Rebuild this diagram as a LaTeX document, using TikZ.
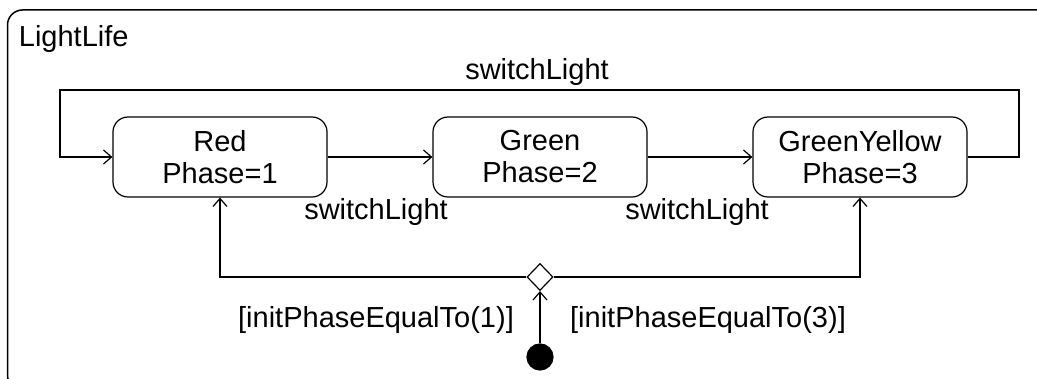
\documentclass[tikz,border=0pt]{standalone}
\usepackage{fontspec}
\setmainfont{Liberation Sans}
\usetikzlibrary{shapes.geometric,arrows.meta}

\begin{document}
\begin{tikzpicture}[x=1pt, y=-1pt, line width=1.2pt,
		every node/.style={font=\fontsize{29}{32}\selectfont},
		phase/.style={draw, rectangle, rounded corners=15pt, minimum width=214pt, minimum height=80pt, inner sep=0pt, align=center},
		trans/.style={->, >={Straight Barb[length=8pt, width=14pt]}}]
				\clip (0,0) rectangle (1037,379);
				\draw[line width=1.5pt, rounded corners=15pt] (7.5,390) rectangle (1060,10);
				\node[anchor=base west] (title)at(15, 47) {LightLife};
				\node[phase] (R)at(220, 157) {Red\\Phase=1};
				\node[phase] (G)at(540, 157) {Green\\Phase=2};
				\node[phase] (GY)at(860, 157) {GreenYellow\\Phase=3};
				\node[draw, diamond, minimum width=26pt, minimum height=27pt, inner sep=0pt] (C)at(540, 277) {};
				\node[draw, circle, fill=black, minimum size=26pt, inner sep=0pt] (I)at(540, 357) {};
				\coordinate (LR)at(1019, 90);
				\coordinate (LL)at(60, 90);
				\draw[trans] (R) -- (G);
				\draw[trans] (G) -- (GY);
				\draw[trans] (GY.east) -| (LR) -- (LL) |- (R.west);
				\draw[trans] (I) -- (C);
				\draw[trans] (C.west) -| (R.south);
				\draw[trans] (C.east) -| (GY.south);
				\node[anchor=base] (t1)at(376, 220) {switchLight};
				\node[anchor=base] (t2)at(697, 220) {switchLight};
				\node[anchor=base] (t3)at(537, 80) {switchLight};
				\node[anchor=base] (g1)at(376, 328) {[initPhaseEqualTo(1)]};
				\node[anchor=base] (g3)at(708, 328) {[initPhaseEqualTo(3)]};
			\end{tikzpicture}
\end{document}
